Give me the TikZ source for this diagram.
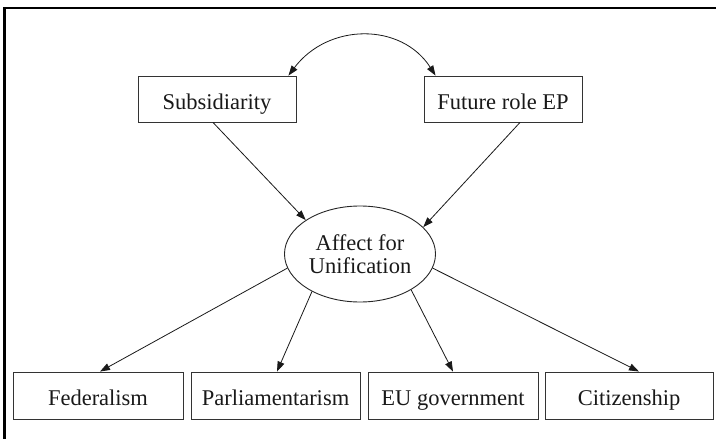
\documentclass[tikz,border=0pt]{standalone}
\usepackage{fontspec}
\setmainfont{Liberation Serif}
\usetikzlibrary{arrows.meta,shapes.geometric}

\tikzset{
  labelfont/.style={font=\fontsize{22.5}{23.6}\selectfont},
  box/.style={draw=black!80, line width=0.9pt, rectangle, inner sep=0pt,
    minimum height=46pt, text height=20pt, text depth=0pt, labelfont,
    text=black!90},
  latent/.style={draw=black!85, line width=0.9pt, ellipse, inner sep=0pt,
    minimum width=151pt, minimum height=96pt, align=center, labelfont,
    text=black!90},
  path/.style={draw=black!90, line width=0.8pt,
    -{Triangle[length=10pt,width=7pt]}},
  covar/.style={draw=black!90, line width=0.8pt,
    {Triangle[length=10pt,width=7pt]}-{Triangle[length=10pt,width=7pt]}},
  frame/.style={draw=black, line width=2.5pt}
}

\begin{document}
\begin{tikzpicture}[x=1pt,y=-1pt]
  \useasboundingbox (0,0) rectangle (716,439);

  % frame along the top and left edges
  \draw[frame] (4.7,440) -- (4.7,7.8) -- (717,7.8);

  % exogenous indicators
  \node[box, minimum width=158pt] (sub) at (217,99) {Subsidiarity};
  \node[box, minimum width=158pt] (fut) at (503,99) {Future role EP};

  % latent factor
  \node[latent] (aff) at (360,254) {Affect for\\Unification};

  % outcome indicators
  \node[box, minimum width=170pt, minimum height=47pt] (fed) at (98,395.5) {Federalism};
  \node[box, minimum width=169pt, minimum height=47pt] (parl) at (275.5,395.5) {Parliamentarism};
  \node[box, minimum width=170pt, minimum height=47pt] (eu) at (453,395.5) {EU government};
  \node[box, minimum width=168pt, minimum height=47pt] (cit) at (629,395.5) {Citizenship};

  % covariance between the two predictors
  \draw[covar] ([xshift=-8pt]sub.north east) .. controls +(40,-53) and +(-34,-53) .. ([xshift=12pt]fut.north west);

  % predictors to the factor
  \draw[path] ([xshift=-4pt]sub.south) -- (aff.148.6);
  \draw[path] ([xshift=17pt]fut.south) -- (aff.23.2);

  % factor to its indicators
  \draw[path] (aff.191) -- ([xshift=2pt]fed.north);
  \draw[path] (aff.218) -- ([xshift=1.5pt]parl.north);
  \draw[path] (aff.325) -- (eu.north);
  \draw[path] (aff.349) -- ([xshift=10pt]cit.north);
\end{tikzpicture}
\end{document}
